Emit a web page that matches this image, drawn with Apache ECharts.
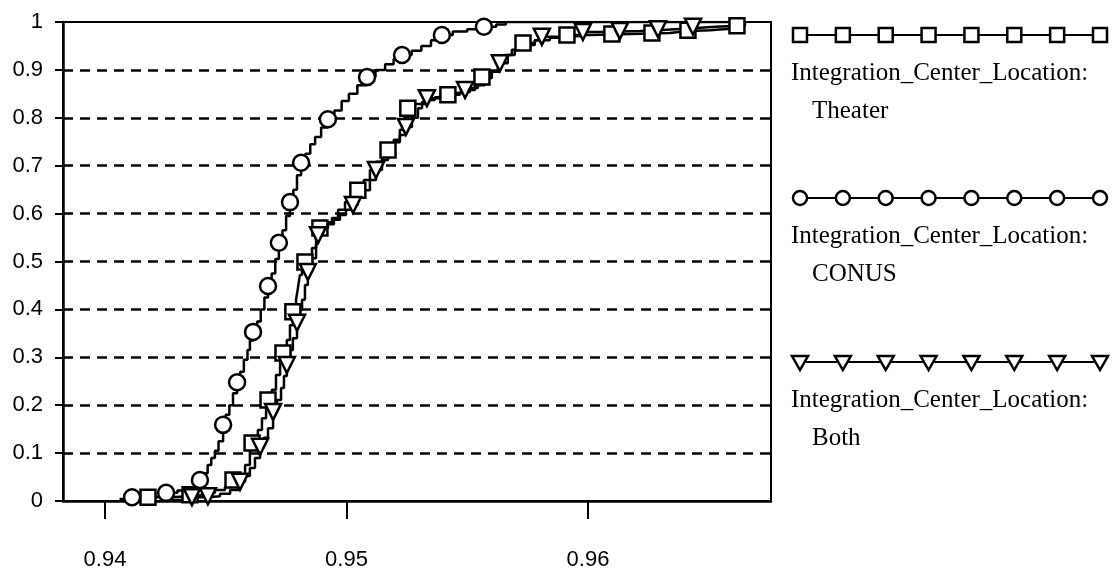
<!DOCTYPE html>
<html>
<head>
<meta charset="utf-8">
<script src="https://cdn.jsdelivr.net/npm/echarts@6/dist/echarts.min.js"></script>
<style>html,body{margin:0;padding:0;background:#fff}#c{width:1115px;height:573px}</style>
</head>
<body>
<div id="c"></div>
<script>
const xTickLabels = [0.94, 0.95, 0.96];
const legendPrefix = 'Integration_Center_Location:';
const groupNames = ['Theater', 'CONUS', 'Both'];

const theaterSteps = [
  [0.94145,0.002],[0.94178,0.008],[0.94269,0.010],[0.94352,0.013],[0.94414,0.017],[0.94455,0.023],
  [0.94497,0.029],[0.94530,0.044],[0.94559,0.054],[0.94580,0.075],[0.94600,0.106],[0.94609,0.121],
  [0.94633,0.148],[0.94650,0.173],[0.94667,0.200],[0.94675,0.211],[0.94691,0.232],[0.94708,0.263],
  [0.94725,0.294],[0.94737,0.309],[0.94753,0.336],[0.94766,0.367],[0.94778,0.395],[0.94791,0.420],
  [0.94799,0.445],[0.94807,0.472],[0.94816,0.486],[0.94828,0.499],[0.94840,0.507],[0.94857,0.528],
  [0.94874,0.549],[0.94890,0.570],[0.94915,0.582],[0.94940,0.591],[0.94965,0.608],[0.94994,0.624],
  [0.95023,0.637],[0.95047,0.649],[0.95072,0.670],[0.95097,0.691],[0.95122,0.708],[0.95147,0.720],
  [0.95172,0.733],[0.95196,0.754],[0.95221,0.775],[0.95242,0.800],[0.95254,0.820],[0.95283,0.829],
  [0.95325,0.837],[0.95366,0.843],[0.95420,0.848],[0.95470,0.854],[0.95511,0.862],[0.95544,0.875],
  [0.95561,0.885],[0.95594,0.896],[0.95627,0.916],[0.95656,0.931],[0.95685,0.942],[0.95710,0.950],
  [0.95731,0.956],[0.95780,0.962],[0.95842,0.967],[0.95913,0.973],[0.96008,0.974],[0.96099,0.975],
  [0.96174,0.976],[0.96265,0.977],[0.96339,0.981],[0.96414,0.983],[0.96505,0.987],[0.96617,0.992],
  [0.96650,1.000]
];
const theaterMarks = [
  [0.94178,0.008],[0.94352,0.013],[0.94530,0.044],[0.94609,0.121],[0.94675,0.211],[0.94737,0.309],
  [0.94778,0.395],[0.94828,0.499],[0.94890,0.570],[0.95047,0.649],[0.95172,0.733],[0.95254,0.820],
  [0.95420,0.848],[0.95561,0.885],[0.95731,0.956],[0.95913,0.973],[0.96099,0.975],[0.96265,0.977],
  [0.96414,0.983],[0.96617,0.992]
];

const conusSteps = [
  [0.94060,0.004],[0.94112,0.008],[0.94180,0.010],[0.94253,0.017],[0.94300,0.022],[0.94340,0.028],
  [0.94370,0.036],[0.94393,0.044],[0.94410,0.058],[0.94425,0.075],[0.94440,0.090],[0.94455,0.105],
  [0.94470,0.125],[0.94489,0.159],[0.94500,0.180],[0.94515,0.200],[0.94530,0.225],[0.94547,0.248],
  [0.94560,0.270],[0.94575,0.295],[0.94590,0.315],[0.94600,0.335],[0.94613,0.353],[0.94630,0.375],
  [0.94645,0.400],[0.94660,0.425],[0.94675,0.449],[0.94690,0.475],[0.94705,0.505],[0.94720,0.539],
  [0.94735,0.565],[0.94750,0.595],[0.94766,0.624],[0.94780,0.650],[0.94795,0.680],[0.94812,0.706],
  [0.94830,0.725],[0.94850,0.745],[0.94870,0.760],[0.94895,0.780],[0.94923,0.797],[0.94950,0.815],
  [0.94980,0.835],[0.95010,0.850],[0.95045,0.868],[0.95085,0.885],[0.95120,0.900],[0.95160,0.912],
  [0.95195,0.922],[0.95230,0.931],[0.95270,0.940],[0.95310,0.950],[0.95350,0.962],[0.95395,0.973],
  [0.95440,0.980],[0.95500,0.985],[0.95569,0.990],[0.95620,0.995],[0.95660,1.000],[0.96620,1.000]
];
const conusMarks = [
  [0.94112,0.008],[0.94253,0.017],[0.94393,0.044],[0.94489,0.159],[0.94547,0.248],[0.94613,0.353],
  [0.94675,0.449],[0.94720,0.539],[0.94766,0.624],[0.94812,0.706],[0.94923,0.797],[0.95085,0.885],
  [0.95230,0.931],[0.95395,0.973],[0.95569,0.990]
];

const bothSteps = [
  [0.94228,0.002],[0.94360,0.008],[0.94426,0.010],[0.94476,0.015],[0.94518,0.023],[0.94559,0.040],
  [0.94580,0.052],[0.94600,0.069],[0.94621,0.090],[0.94642,0.113],[0.94658,0.132],[0.94675,0.152],
  [0.94696,0.186],[0.94712,0.211],[0.94729,0.236],[0.94741,0.261],[0.94753,0.284],[0.94766,0.315],
  [0.94778,0.340],[0.94795,0.372],[0.94807,0.399],[0.94816,0.420],[0.94828,0.451],[0.94840,0.478],
  [0.94857,0.507],[0.94874,0.534],[0.94882,0.555],[0.94899,0.570],[0.94923,0.578],[0.94948,0.587],
  [0.94973,0.597],[0.94998,0.608],[0.95027,0.618],[0.95047,0.633],[0.95072,0.649],[0.95097,0.670],
  [0.95122,0.691],[0.95147,0.712],[0.95172,0.733],[0.95196,0.749],[0.95221,0.764],[0.95246,0.781],
  [0.95271,0.800],[0.95296,0.820],[0.95313,0.833],[0.95333,0.841],[0.95387,0.846],[0.95449,0.852],
  [0.95491,0.858],[0.95532,0.868],[0.95573,0.883],[0.95602,0.896],[0.95635,0.914],[0.95668,0.931],
  [0.95697,0.942],[0.95739,0.952],[0.95780,0.962],[0.95809,0.969],[0.95884,0.971],[0.95979,0.979],
  [0.96049,0.980],[0.96132,0.981],[0.96215,0.983],[0.96290,0.985],[0.96360,0.987],[0.96435,0.990],
  [0.96526,0.992],[0.96629,1.000]
];
const bothMarks = [
  [0.94360,0.008],[0.94426,0.010],[0.94559,0.040],[0.94642,0.113],[0.94696,0.186],[0.94753,0.284],
  [0.94795,0.372],[0.94840,0.478],[0.94882,0.555],[0.95027,0.618],[0.95122,0.691],[0.95246,0.781],
  [0.95333,0.841],[0.95491,0.858],[0.95635,0.914],[0.95809,0.969],[0.95979,0.979],[0.96132,0.981],
  [0.96290,0.985],[0.96435,0.990]
];

const chart = echarts.init(document.getElementById('c'), null, {renderer: 'canvas'});

const lineStyle = {color: '#000', width: 2.5, opacity: 1};
const markStyle = {color: '#fff', borderColor: '#000', borderWidth: 2.5, opacity: 1};
function stepSeries(name, data) {
  return {name, type: 'line', step: 'end', data, showSymbol: false, symbol: 'none',
    lineStyle, itemStyle: {color: '#000'}, z: 3, silent: true, animation: false};
}
function markSeries(name, data, symbol, rotate, size) {
  return {name, type: 'scatter', data, symbol, symbolRotate: rotate, symbolSize: size,
    itemStyle: markStyle, z: 4, silent: true, animation: false};
}

// legend drawn as graphic (icon row + two text lines)
const legendX0 = 800, legendX1 = 1100, legendIconY = [35, 198, 362];
const legendSymbols = ['rect', 'circle', 'tri'];
const graphics = [];
legendIconY.forEach((y, i) => {
  graphics.push({type: 'line', shape: {x1: legendX0, y1: y, x2: legendX1, y2: y},
    style: {stroke: '#000', lineWidth: 2}, z: 10});
  for (let k = 0; k < 8; k++) {
    const cx = legendX0 + (legendX1 - legendX0) * k / 7;
    let el;
    if (legendSymbols[i] === 'rect') {
      el = {type: 'rect', shape: {x: cx - 7, y: y - 7, width: 14, height: 14}};
    } else if (legendSymbols[i] === 'circle') {
      el = {type: 'circle', shape: {cx, cy: y, r: 7}};
    } else {
      el = {type: 'polygon', shape: {points: [[cx - 8, y - 6], [cx + 8, y - 6], [cx, y + 8]]}};
    }
    el.style = {fill: '#fff', stroke: '#000', lineWidth: 2.5};
    el.z = 11;
    graphics.push(el);
  }
  graphics.push({type: 'text', left: 791, top: y + 26,
    style: {text: legendPrefix, font: '25px "Liberation Serif"', fill: '#000'}, z: 10});
  graphics.push({type: 'text', left: 812, top: y + 64,
    style: {text: groupNames[i], font: '25px "Liberation Serif"', fill: '#000'}, z: 10});
});

chart.setOption({
  animation: false,
  backgroundColor: '#fff',
  grid: {left: 63, top: 22, width: 708, height: 479, show: true, borderColor: '#000', borderWidth: 2, backgroundColor: 'transparent'},
  xAxis: {
    type: 'value', min: 0.93826, max: 0.96758,
    axisLine: {lineStyle: {color: '#000', width: 2.5}},
    axisTick: {show: true, length: 18, customValues: xTickLabels, lineStyle: {color: '#000', width: 2}},
    axisLabel: {customValues: xTickLabels, margin: 48, color: '#000', fontFamily: 'Liberation Sans', fontSize: 22,
      formatter: v => String(+v.toFixed(2))},
    splitLine: {show: false}
  },
  yAxis: {
    type: 'value', min: 0, max: 1, interval: 0.1,
    axisLine: {show: true, lineStyle: {color: '#000', width: 2.5}},
    axisTick: {show: true, length: 8, lineStyle: {color: '#000', width: 2}},
    axisLabel: {margin: 20, color: '#000', fontFamily: 'Liberation Sans', fontSize: 22,
      formatter: v => String(+v.toFixed(1))},
    splitLine: {show: true, showMinLine: false, showMaxLine: false,
      lineStyle: {color: '#000', width: 2.5, type: [10, 7]}}
  },
  series: [
    stepSeries(groupNames[0], theaterSteps),
    stepSeries(groupNames[1], conusSteps),
    stepSeries(groupNames[2], bothSteps),
    markSeries(groupNames[0], theaterMarks, 'rect', 0, 15),
    markSeries(groupNames[1], conusMarks, 'circle', 0, 16),
    markSeries(groupNames[2], bothMarks, 'triangle', 180, 16)
  ],
  graphic: graphics
});
</script>
</body>
</html>
